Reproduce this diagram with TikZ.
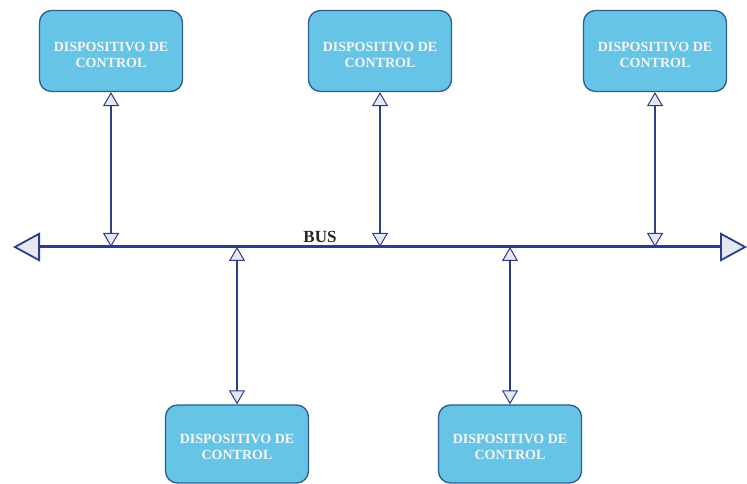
\documentclass[tikz,border=0pt]{standalone}
\usepackage{fontspec}
\setmainfont{Liberation Serif}
\usetikzlibrary{arrows.meta}
\definecolor{boxfill}{HTML}{66C4E6}
\definecolor{boxline}{HTML}{2D5C8E}
\definecolor{busblue}{HTML}{2B3E8C}
\definecolor{tipfill}{HTML}{E6E7EF}
\definecolor{boxtext}{HTML}{F4F8FB}
\tikzset{
  devbox/.style={draw=boxline, line width=1.3pt, fill=boxfill, rounded corners=12pt,
    minimum width=143pt, minimum height=81pt, inner sep=0pt},
  devtext/.style={align=center, inner sep=0pt, text=boxtext,
    font=\bfseries\fontsize{14}{16}\selectfont},
  vtip/.tip={Triangle[length=14pt,width=16pt,fill=tipfill,line width=1pt]},
  btip/.tip={Triangle[length=27pt,width=29pt,fill=tipfill,line width=1.8pt]},
  vlink/.style={draw=busblue, line width=1.8pt, vtip-vtip},
  busline/.style={draw=busblue, line width=3pt, btip-btip},
}
\begin{document}
\begin{tikzpicture}[x=1pt,y=1pt]
\useasboundingbox (0,0) rectangle (747,484);
\node[devbox] (d1) at (111,433) {};
\node[devbox] (d2) at (380,433) {};
\node[devbox] (d3) at (655,433) {};
\node[devbox, minimum height=78pt] (d4) at (237,40) {};
\node[devbox, minimum height=78pt] (d5) at (510,40) {};
\node[devtext] (t1) at ([yshift=-3.5pt]d1.center) {DISPOSITIVO DE\\CONTROL};
\node[devtext] (t2) at ([yshift=-3.5pt]d2.center) {DISPOSITIVO DE\\CONTROL};
\node[devtext] (t3) at ([yshift=-3.5pt]d3.center) {DISPOSITIVO DE\\CONTROL};
\node[devtext] (t4) at ([yshift=-3pt]d4.center) {DISPOSITIVO DE\\CONTROL};
\node[devtext] (t5) at ([yshift=-3pt]d5.center) {DISPOSITIVO DE\\CONTROL};
\coordinate (busL) at (13,237);
\coordinate (busR) at (747,237);
\coordinate (b1) at (111,237);
\coordinate (b2) at (380,237);
\coordinate (b3) at (655,237);
\coordinate (b4) at (237,237);
\coordinate (b5) at (510,237);
\draw[busline] (busL) -- (busR);
\node[font=\bfseries\fontsize{17}{19}\selectfont, text=black!85, inner sep=0pt] (bus) at (320,247) {BUS};
\draw[vlink] (d1.south) -- (b1);
\draw[vlink] (d2.south) -- (b2);
\draw[vlink] (d3.south) -- (b3);
\draw[vlink] (b4) -- (d4.north);
\draw[vlink] (b5) -- (d5.north);
\end{tikzpicture}
\end{document}
